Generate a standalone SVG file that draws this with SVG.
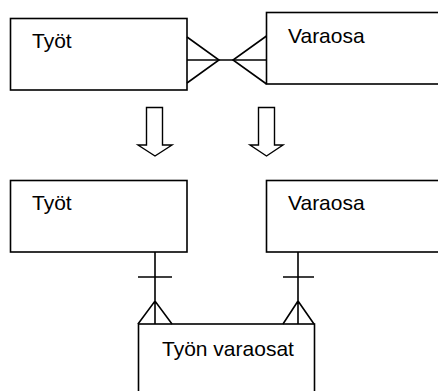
<svg xmlns="http://www.w3.org/2000/svg" width="438" height="391" viewBox="0 0 438 391">
<style>
.box{fill:#fff;stroke:#000;stroke-width:1.6}
.ln{fill:none;stroke:#000;stroke-width:1.6}
.arr{fill:#fff;stroke:#000;stroke-width:1.4;stroke-linejoin:miter}
text{font-family:"Liberation Sans",Arial,sans-serif;font-size:21px;fill:#000}
</style>
<rect width="438" height="391" fill="#fff"/>
<g id="tyot1"><rect class="box" x="10.5" y="18.5" width="176.5" height="71.5"/><text x="32" y="48">Työt</text></g>
<g id="varaosa1"><rect class="box" x="266.5" y="12.5" width="180" height="71.5"/><text x="288" y="43">Varaosa</text></g>
<g id="tyot2"><rect class="box" x="10.5" y="180.5" width="176.5" height="71.5"/><text x="32" y="210">Työt</text></g>
<g id="varaosa2"><rect class="box" x="266.5" y="180.5" width="180" height="71.5"/><text x="288" y="210">Varaosa</text></g>
<g id="tyonvaraosat"><rect class="box" x="138.5" y="324" width="176" height="80"/><text x="162" y="356">Työn varaosat</text></g>
<g id="arrows">
<path class="arr" d="M146.5,107.5 H162.5 V145 H172 L155,156 L138,145 H146.5 Z"/>
<path class="arr" d="M258.5,107.5 H274.5 V145 H283 L266.5,156 L250,145 H258.5 Z"/>
</g>
<g id="connectors">
<path class="ln" d="M187,60 H266.5"/>
<path class="ln" d="M187,37 L219,60 L187,83"/>
<path class="ln" d="M266.5,36 L233,60 L266.5,84"/>
<path class="ln" d="M155,252 V324 M138,277 H172 M138,324 L155,301 L172,324"/>
<path class="ln" d="M298,252 V324 M283,277 H314 M283,324 L298,301 L314,324"/>
</g>
</svg>
